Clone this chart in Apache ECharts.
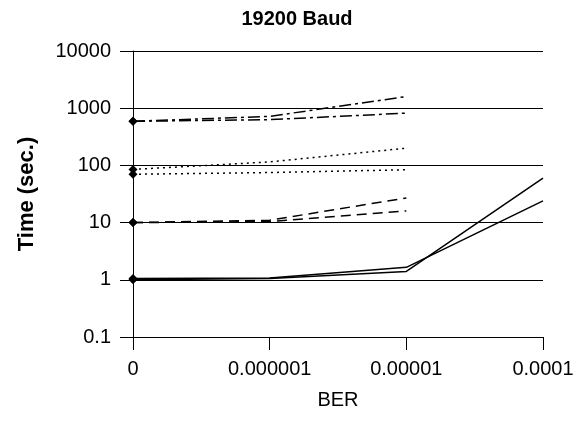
<!DOCTYPE html>
<html>
<head>
<meta charset="utf-8">
<title>19200 Baud</title>
<script src="https://cdn.jsdelivr.net/npm/echarts@6/dist/echarts.min.js"></script>
<style>
    html, body {
        margin: 0;
        padding: 0;
        background: #fff;
    }
    #chart {
        width: 585px;
        height: 425px;
    }
</style>
</head>
<body>
<div id="chart"></div>
<script>
// BER categories
const berLabels = ['0', '0.000001', '0.00001', '0.0001']
const yTicks = [0.1, 1, 10, 100, 1000, 10000]

// time (sec.) per series
const solidA = [1.0, 1.05, 1.4, 60]
const solidB = [1.05, 1.08, 1.65, 24]
const dashA = [10, 11, 27, null]
const dashB = [10, 10.4, 16, null]
const dotA = [85, 115, 200, null]
const dotB = [70, 75, 84, null]
const dashDotA = [590, 720, 1600, null]
const dashDotB = [590, 630, 820, null]

const font = "'Liberation Sans', Arial, sans-serif"

function makeLine(data, dash) {
    return {
        type: 'line',
        data: data,
        // marker only on the first point
        symbol: (value, params) => params.dataIndex === 0 ? 'diamond' : 'none',
        symbolSize: 9,
        itemStyle: { color: '#000' },
        lineStyle: {
            color: '#000',
            width: 1.5,
            type: dash
        },
        z: 3
    }
}

const chart = echarts.init(document.getElementById('chart'))
const option = {
    animation: false,
    backgroundColor: '#fff',
    title: {
        text: '19200 Baud',
        left: 292,
        textAlign: 'center',
        top: 4,
        textStyle: {
            fontFamily: font,
            fontSize: 20,
            fontWeight: 'bold',
            color: '#000'
        }
    },
    grid: {
        left: 133,
        right: 42,
        top: 51,
        bottom: 88
    },
    xAxis: {
        type: 'category',
        data: berLabels,
        boundaryGap: false,
        name: 'BER',
        nameLocation: 'middle',
        nameGap: 53,
        nameTextStyle: {
            fontFamily: font,
            fontSize: 20,
            color: '#000'
        },
        axisLine: { lineStyle: { color: '#000', width: 1 } },
        axisTick: { show: true, length: 13, alignWithLabel: true, lineStyle: { color: '#000' } },
        axisLabel: {
            margin: 22,
            fontFamily: font,
            fontSize: 20,
            color: '#000'
        },
        splitLine: { show: false }
    },
    yAxis: {
        type: 'log',
        logBase: 10,
        min: yTicks[0],
        max: yTicks[yTicks.length - 1],
        name: 'Time (sec.)',
        nameLocation: 'middle',
        nameRotate: 90,
        nameGap: 95,
        nameTextStyle: {
            fontFamily: font,
            fontSize: 22,
            fontWeight: 'bold',
            color: '#000'
        },
        axisLine: { show: true, lineStyle: { color: '#000', width: 1 } },
        axisTick: { show: true, length: 13, lineStyle: { color: '#000' } },
        axisLabel: {
            margin: 22,
            fontFamily: font,
            fontSize: 20,
            color: '#000',
            formatter: (v) => {
                const hit = yTicks.find(t => Math.abs(t - v) / t < 1e-6)
                return hit === undefined ? '' : String(hit)
            }
        },
        splitLine: { show: true, lineStyle: { color: '#000', width: 1 } }
    },
    series: [
        makeLine(solidA, 'solid'),
        makeLine(solidB, 'solid'),
        makeLine(dashA, [10, 6]),
        makeLine(dashB, [10, 6]),
        makeLine(dotA, [2, 4]),
        makeLine(dotB, [2, 4]),
        makeLine(dashDotA, [12, 4, 3, 4]),
        makeLine(dashDotB, [12, 4, 3, 4])
    ]
}
chart.setOption(option)
</script>
</body>
</html>
